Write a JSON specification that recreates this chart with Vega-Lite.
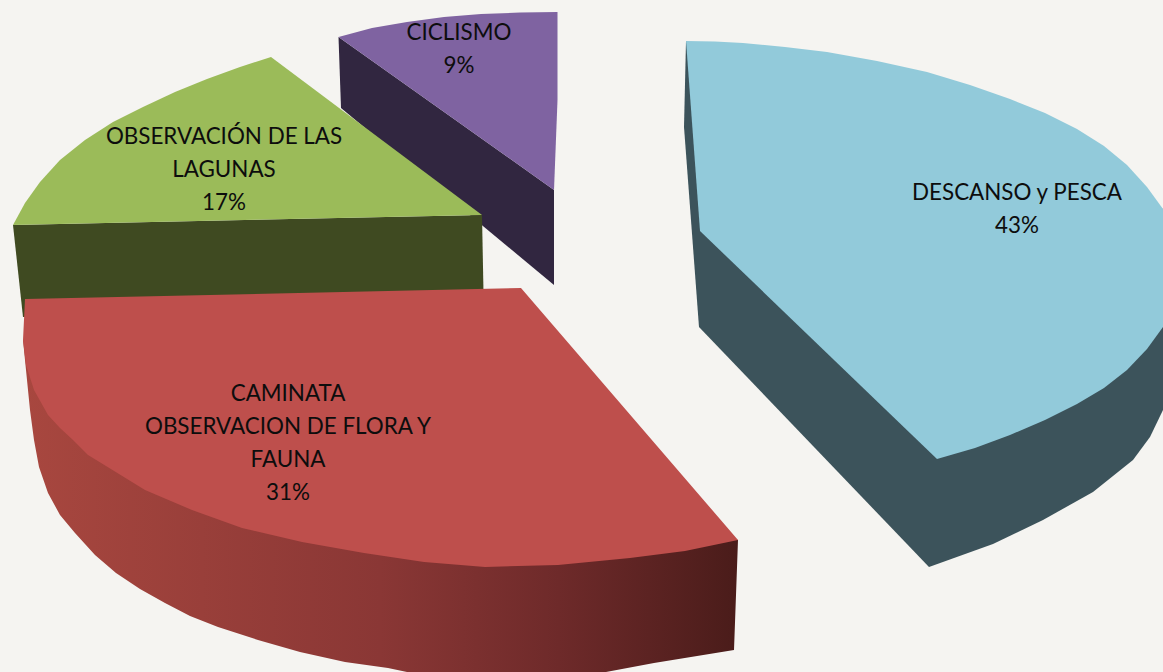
{
"$schema":"https://vega.github.io/schema/vega-lite/v6.json",
"width":1163,"height":672,"padding":0,
"autosize":{"type":"fit","contains":"padding"},
"background":"#f5f4f1",
"config":{"view":{"stroke":null},"axis":{"disable":true}},
"encoding":{"x":{"field":"0","type":"quantitative","scale":{"domain":[0,1163],"nice":false},"axis":null},"y":{"field":"1","type":"quantitative","scale":{"domain":[672,0],"nice":false},"axis":null},"order":{"field":"n"}},
"datasets":{
"azulLado":[[686,41],[684,127],[699,327],[929,567],[993,544],[1043,520],[1093,492],[1133,460],[1150,437],[1163,410],[1163,209]],
"azulTapa":[[686,41],[715,41.5],[743,43],[785,47],[827,52],[877,61],[927,72],[970,85],[1010,99],[1045,113],[1077,129],[1104,146],[1127,165],[1147,187],[1163,209],[1163,327],[1147,349],[1127,370],[1104,388],[1077,404],[1045,420],[1010,435],[975,448],[937,459],[700,231]],
"moradoLado":[[338.5,37],[341,108],[554,285],[554,190]],
"moradoTapa":[[338.5,37],[372,28],[407,22],[444,17],[481,14],[520,12.5],[557.5,12],[557.5,100],[554,190]],
"verdeLado":[[13,225],[23,317],[483.5,293],[482,215]],
"verdeTapa":[[271,57],[240,67],[207,79],[175,92],[143,107],[113,122],[85,140],[60,160],[40,182],[25,203],[13,225],[482,215]],
"rojoLado":[[23,340],[27,380],[30,410],[34,440],[39,467],[48,493],[60,515],[75,533],[95,555],[116,573],[140,589],[165,603],[190,616],[218,627],[258,640],[300,652],[345,662],[388,668],[407,672],[606,672],[654,663],[734,650],[738,540]],
"rojoTapa":[[25,299],[521,288],[738,540],[685,551],[630,558],[558,565],[485,567],[424,562],[364,553],[302,542],[242,528],[192,510],[145,490],[106,466],[88,455],[73,440],[60,428],[48,415],[34,390],[26,365],[23,340]],
"etiquetas":[
{"texto":"CICLISMO\n9%","px":459,"py":33},
{"texto":"OBSERVACIÓN DE LAS\nLAGUNAS\n17%","px":224,"py":137},
{"texto":"DESCANSO y PESCA\n43%","px":1017,"py":193},
{"texto":"CAMINATA\nOBSERVACION DE FLORA Y\nFAUNA\n31%","px":288,"py":394}
]},
"layer":[
{"data":{"name":"azulLado"},"transform":[{"window":[{"op":"row_number","as":"n"}]}],"mark":{"type":"line","fill":"#3c535b","strokeWidth":0}},
{"data":{"name":"azulTapa"},"transform":[{"window":[{"op":"row_number","as":"n"}]}],"mark":{"type":"line","fill":"#92cada","strokeWidth":0}},
{"data":{"name":"moradoLado"},"transform":[{"window":[{"op":"row_number","as":"n"}]}],"mark":{"type":"line","fill":"#312640","strokeWidth":0}},
{"data":{"name":"moradoTapa"},"transform":[{"window":[{"op":"row_number","as":"n"}]}],"mark":{"type":"line","fill":"#7f63a1","strokeWidth":0}},
{"data":{"name":"verdeLado"},"transform":[{"window":[{"op":"row_number","as":"n"}]}],"mark":{"type":"line","fill":"#3f4a21","strokeWidth":0}},
{"data":{"name":"verdeTapa"},"transform":[{"window":[{"op":"row_number","as":"n"}]}],"mark":{"type":"line","fill":"#9bbb59","strokeWidth":0}},
{"data":{"name":"rojoLado"},"transform":[{"window":[{"op":"row_number","as":"n"}]}],"mark":{"type":"line","strokeWidth":0,"fill":{"gradient":"linear","x1":0,"x2":1,"y1":0,"y2":0,"stops":[{"offset":0,"color":"#a8473f"},{"offset":0.5,"color":"#8a3735"},{"offset":0.75,"color":"#6e2a2a"},{"offset":1,"color":"#4a1c1a"}]}}},
{"data":{"name":"rojoTapa"},"transform":[{"window":[{"op":"row_number","as":"n"}]}],"mark":{"type":"line","fill":"#be4f4c","strokeWidth":0}},
{"data":{"name":"etiquetas"},"mark":{"type":"text","font":"Lato","fontSize":22.4,"lineHeight":33,"lineBreak":"\n","align":"center","baseline":"middle","color":"#0d0d0d"},"encoding":{"x":{"field":"px","type":"quantitative"},"y":{"field":"py","type":"quantitative"},"text":{"field":"texto"},"order":{"value":null}}}
]}
